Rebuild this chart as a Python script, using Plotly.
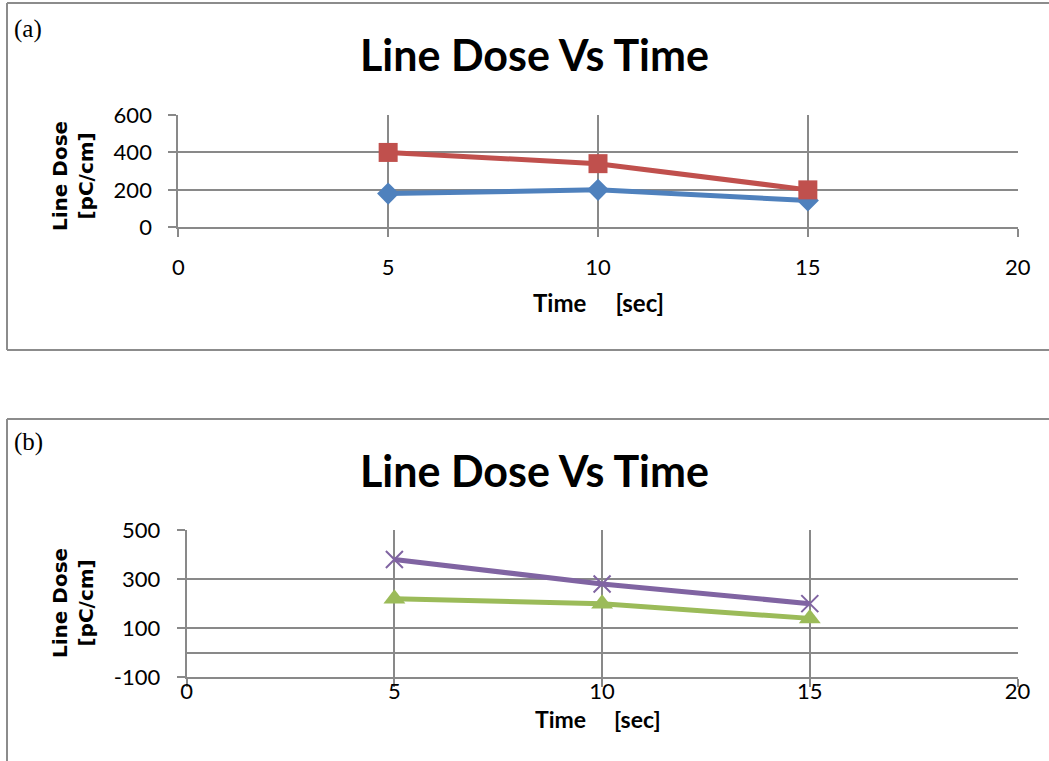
import plotly.graph_objects as go

W, H = 1049, 761

time_sec = [5, 10, 15]
a_blue = [180, 200, 143]
a_red = [400, 340, 200]
b_green = [220, 200, 140]
b_purple = [380, 280, 200]

a_xticks = [0, 5, 10, 15, 20]
a_yticks = [0, 200, 400, 600]
b_yticks = [-100, 100, 300, 500]

title_text = "Line Dose Vs Time"
xtitle = "Time &nbsp;&nbsp;&nbsp;&nbsp;[sec]"
ytitle = "Line Dose<br>[pC/cm]"

GRID = "#898989"
FONT = "Lato"


def px(x):
    return x / W


def py(y):
    return 1 - y / H


fig = go.Figure()

fig.add_trace(go.Scatter(x=time_sec, y=a_blue, mode="lines+markers",
                         line=dict(color="#4F81BD", width=5),
                         marker=dict(symbol="diamond", size=17, color="#4F81BD"),
                         xaxis="x", yaxis="y", cliponaxis=False))
fig.add_trace(go.Scatter(x=time_sec, y=a_red, mode="lines+markers",
                         line=dict(color="#C0504D", width=5),
                         marker=dict(symbol="square", size=19, color="#C0504D"),
                         xaxis="x", yaxis="y", cliponaxis=False))
fig.add_trace(go.Scatter(x=time_sec, y=b_green, mode="lines+markers",
                         line=dict(color="#9BBB59", width=5),
                         marker=dict(symbol="triangle-up", size=19, color="#9BBB59"),
                         xaxis="x2", yaxis="y2", cliponaxis=False))
fig.add_trace(go.Scatter(x=time_sec, y=b_purple, mode="lines+markers",
                         line=dict(color="#8064A2", width=5),
                         marker=dict(symbol="x-thin-open", size=17,
                                     line=dict(color="#8064A2", width=2)),
                         xaxis="x2", yaxis="y2", cliponaxis=False))

common_x = dict(range=[0, 20], tickvals=a_xticks,
                ticktext=[str(v) for v in a_xticks], showgrid=True,
                gridcolor=GRID, gridwidth=1.5, showline=True, linecolor=GRID,
                linewidth=2, ticks="outside", ticklen=8, tickcolor=GRID,
                tickwidth=1.5, tickfont=dict(family=FONT, size=22, color="#000"),
                zeroline=False, mirror=False, automargin=False, fixedrange=True)
common_y = dict(showgrid=True, gridcolor=GRID, gridwidth=1.5, showline=True,
                linecolor=GRID, linewidth=2, ticks="outside", ticklen=8,
                tickcolor=GRID, tickwidth=1.5, automargin=False, fixedrange=True,
                tickfont=dict(family=FONT, size=22, color="#000"))

fig.update_layout(
    width=W, height=H, margin=dict(l=0, r=0, t=0, b=0, pad=0, autoexpand=False),
    paper_bgcolor="white", plot_bgcolor="white", showlegend=False,
    xaxis=dict(common_x, domain=[px(178.3), px(1017.7)], anchor="y",
               ticklabelstandoff=11),
    yaxis=dict(common_y, domain=[py(227.3), py(115)], range=[0, 600],
               tickvals=a_yticks, ticktext=[str(v) for v in a_yticks],
               zeroline=False, anchor="x", ticklabelstandoff=12),
    xaxis2=dict(common_x, domain=[px(186.7), px(1017.5)], anchor="y2",
                ticklabelstandoff=-15),
    yaxis2=dict(common_y, domain=[py(677.3), py(530)], range=[-100, 500],
                tickvals=b_yticks, ticktext=[str(v) for v in b_yticks],
                zeroline=True, zerolinecolor=GRID, zerolinewidth=2,
                anchor="x2", ticklabelstandoff=12),
)

# panel frames (kept inside the paper)
frame = dict(type="line", xref="paper", yref="paper",
             line=dict(color="#8c8c8c", width=2))
fig.add_shape(frame, x0=px(7), x1=1, y0=py(3), y1=py(3))
fig.add_shape(frame, x0=px(7), x1=px(7), y0=py(3), y1=py(350))
fig.add_shape(frame, x0=px(7), x1=1, y0=py(350), y1=py(350))
fig.add_shape(frame, x0=px(7), x1=1, y0=py(419), y1=py(419))
fig.add_shape(frame, x0=px(7), x1=px(7), y0=py(419), y1=0)

ann = []
for lab, ly, ty, xty, yty, xsz in [("(a)", 29, 55, 302, 176, 24),
                                   ("(b)", 442, 470, 719, 603, 23)]:
    ann.append(dict(text=lab, x=px(12), y=py(ly), xanchor="left", yanchor="middle",
                    font=dict(family="Liberation Serif", size=25, color="#000")))
    ann.append(dict(text="<b>" + title_text + "</b>", x=px(534), y=py(ty),
                    xanchor="center", yanchor="middle",
                    font=dict(family=FONT, size=43, color="#000")))
    ann.append(dict(text="<b>" + xtitle + "</b>", x=px(598), y=py(xty),
                    xanchor="center", yanchor="middle",
                    font=dict(family=FONT, size=xsz, color="#000")))
    ann.append(dict(text="<b>" + ytitle + "</b>", x=px(73), y=py(yty),
                    xanchor="center", yanchor="middle", textangle=-90,
                    font=dict(family="DejaVu Sans", size=20, color="#000")))
for a in ann:
    a.update(xref="paper", yref="paper", showarrow=False)
fig.update_layout(annotations=ann)

fig.write_html("out.html")
